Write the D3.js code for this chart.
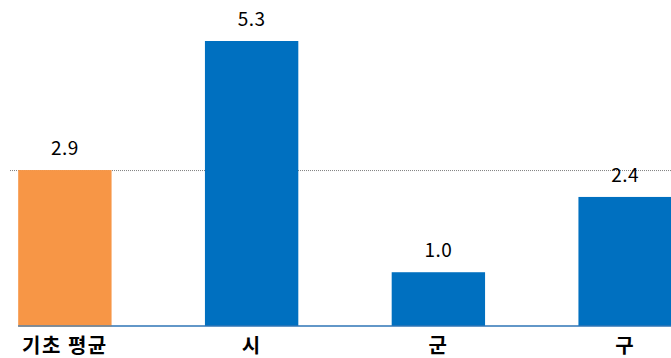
<!DOCTYPE html>
<html><head><meta charset="utf-8">
<script src="https://cdn.jsdelivr.net/npm/d3@7"></script>
<style>body{margin:0;background:#fff}svg{display:block}</style>
</head><body>
<svg id="c" width="671" height="358"></svg>
<script>
const categories = ["기초 평균", "시", "군", "구"];
const values = [2.9, 5.3, 1.0, 2.4];
const colors = ["#F79646", "#0070C0", "#0070C0", "#0070C0"];
const referenceValue = 2.9;

const svg = d3.select("#c");
const W = 671, H = 358;
const x = d3.scaleBand().domain(categories).range([-28.5, 718.5]).paddingInner(0.5).paddingOuter(0.25);
const y = d3.scaleLinear().domain([0, 5.3]).range([326, 41]);
const font = "'Noto Sans CJK KR', 'Noto Sans', sans-serif";

// reference dotted line
svg.append("line").attr("x1", 10).attr("x2", W)
  .attr("y1", y(referenceValue) + 0.5).attr("y2", y(referenceValue) + 0.5)
  .attr("stroke", "#7f7f7f").attr("stroke-width", 1).attr("stroke-dasharray", "1,1");

svg.selectAll("rect.bar").data(values).join("rect").attr("class", "bar")
  .attr("x", (d, i) => x(categories[i]))
  .attr("width", x.bandwidth())
  .attr("y", d => y(d))
  .attr("height", d => y(0) - y(d))
  .attr("fill", (d, i) => colors[i]);

// baseline
svg.append("line").attr("x1", x(categories[0])).attr("x2", W)
  .attr("y1", y(0)).attr("y2", y(0)).attr("stroke", "#2E75B6").attr("stroke-width", 1.5);
svg.append("line").attr("x1", x(categories[0])).attr("x2", x(categories[0]) + x.bandwidth())
  .attr("y1", y(0)).attr("y2", y(0)).attr("stroke", "#8c8c8c").attr("stroke-width", 1.5);

svg.selectAll("text.val").data(values).join("text").attr("class", "val")
  .attr("x", (d, i) => x(categories[i]) + x.bandwidth() / 2)
  .attr("y", d => y(d) - 15)
  .attr("text-anchor", "middle")
  .attr("font-family", font).attr("font-size", 19).attr("letter-spacing", 0.5).attr("fill", "#000")
  .text(d => d.toFixed(1));

svg.selectAll("text.cat").data(categories).join("text").attr("class", "cat")
  .attr("x", d => x(d) + x.bandwidth() / 2)
  .attr("y", 353)
  .attr("text-anchor", "middle")
  .attr("font-family", font).attr("font-size", 20).attr("font-weight", "bold")
  .attr("letter-spacing", 1.5).attr("fill", "#000")
  .text(d => d);
</script>
</body></html>
